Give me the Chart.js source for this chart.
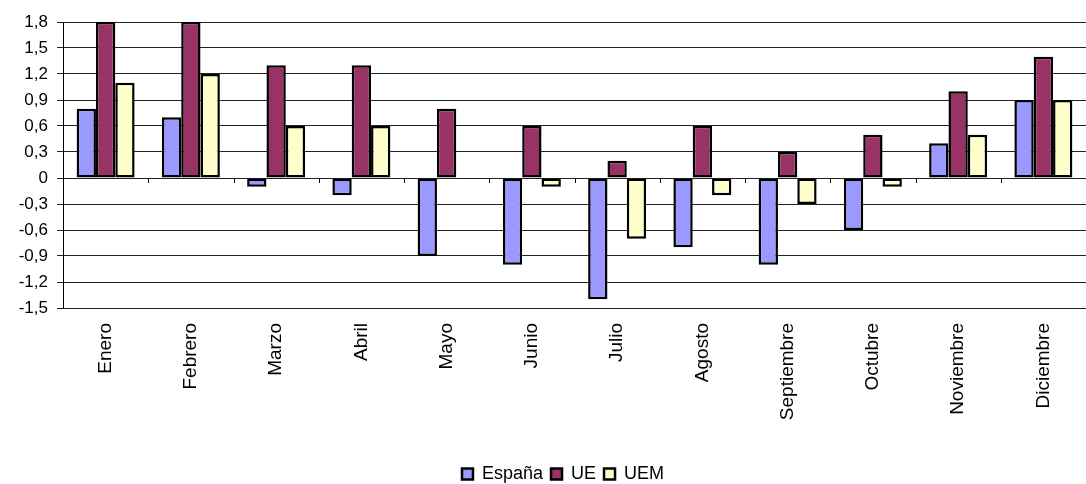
<!DOCTYPE html>
<html>
<head>
<meta charset="utf-8">
<script src="https://cdn.jsdelivr.net/npm/chart.js@4/dist/chart.umd.min.js"></script>
<style>
  html, body { margin: 0; padding: 0; background: #fff; }
  #wrap { width: 1086px; height: 484px; }
</style>
</head>
<body>
<div id="wrap"><canvas id="myChart" width="1086" height="484"></canvas></div>
<script>
// Months on the x axis
const months = ["Enero", "Febrero", "Marzo", "Abril", "Mayo", "Junio",
  "Julio", "Agosto", "Septiembre", "Octubre", "Noviembre", "Diciembre"];

// Series values
const espana = [0.8, 0.7, -0.1, -0.2, -0.9, -1.0, -1.4, -0.8, -1.0, -0.6, 0.4, 0.9];
const ue = [1.8, 1.8, 1.3, 1.3, 0.8, 0.6, 0.2, 0.6, 0.3, 0.5, 1.0, 1.4];
const uem = [1.1, 1.2, 0.6, 0.6, 0, -0.1, -0.7, -0.2, -0.3, -0.1, 0.5, 0.9];

// Y axis ticks
const yTicks = [-1.5, -1.2, -0.9, -0.6, -0.3, 0, 0.3, 0.6, 0.9, 1.2, 1.5, 1.8];

const font = "'Liberation Sans', Arial, sans-serif";

// little tick marks on the zero line between months
const zeroTicks = {
  id: "zeroTicks",
  afterLayout(chart) {
    // legend in the original sits a bit right of the canvas centre
    chart.legend.left += 20;
    chart.legend.right += 20;
  },
  afterDatasetsDraw(chart) {
    const x = chart.scales.x, y = chart.scales.y;
    const ctx = chart.ctx;
    const y0 = y.getPixelForValue(0);
    ctx.save();
    ctx.strokeStyle = "#000";
    ctx.lineWidth = 1;
    ctx.beginPath();
    for (let i = 1; i < months.length; i++) {
      const px = Math.round((x.getPixelForTick(i - 1) + x.getPixelForTick(i)) / 2) + 0.5;
      ctx.moveTo(px, y0);
      ctx.lineTo(px, y0 + 5);
    }
    ctx.stroke();
    ctx.restore();
  }
};

new Chart("myChart", {
  type: "bar",
  data: {
    labels: months,
    datasets: [
      { label: "España", data: espana, backgroundColor: "#9999FF", borderColor: "#000", borderWidth: 2.5 },
      { label: "UE", data: ue, backgroundColor: "#993366", borderColor: "#000", borderWidth: 2.5 },
      { label: "UEM", data: uem, backgroundColor: "#FFFFCC", borderColor: "#000", borderWidth: 2.5 }
    ]
  },
  options: {
    responsive: false,
    animation: false,
    layout: { padding: { top: 22, right: 0, bottom: -9, left: 0 } },
    datasets: {
      bar: { categoryPercentage: 0.68, barPercentage: 1, borderSkipped: false }
    },
    plugins: {
      legend: {
        position: "bottom",
        labels: {
          color: "#000",
          font: { family: font, size: 18 },
          boxWidth: 11,
          boxHeight: 11,
          padding: 8
        }
      },
      tooltip: { enabled: false }
    },
    scales: {
      x: {
        afterFit: scale => { scale.height = 149; },
        grid: { display: false, drawTicks: false },
        border: { display: false },
        ticks: {
          color: "#000",
          font: { family: font, size: 19 },
          minRotation: 90,
          maxRotation: 90,
          padding: 15
        }
      },
      y: {
        min: -1.5,
        max: 1.8,
        afterBuildTicks: scale => { scale.ticks = yTicks.map(v => ({ value: v })); },
        afterFit: scale => { scale.width = 63; },
        grid: { color: "#222", lineWidth: 1, tickLength: 6 },
        border: { display: true, color: "#000", width: 1 },
        ticks: {
          color: "#000",
          font: { family: font, size: 17 },
          padding: 9,
          callback: v => Math.abs(v) < 1e-9 ? "0" : v.toFixed(1).replace(".", ",")
        }
      }
    }
  },
  plugins: [zeroTicks]
});
</script>
</body>
</html>
